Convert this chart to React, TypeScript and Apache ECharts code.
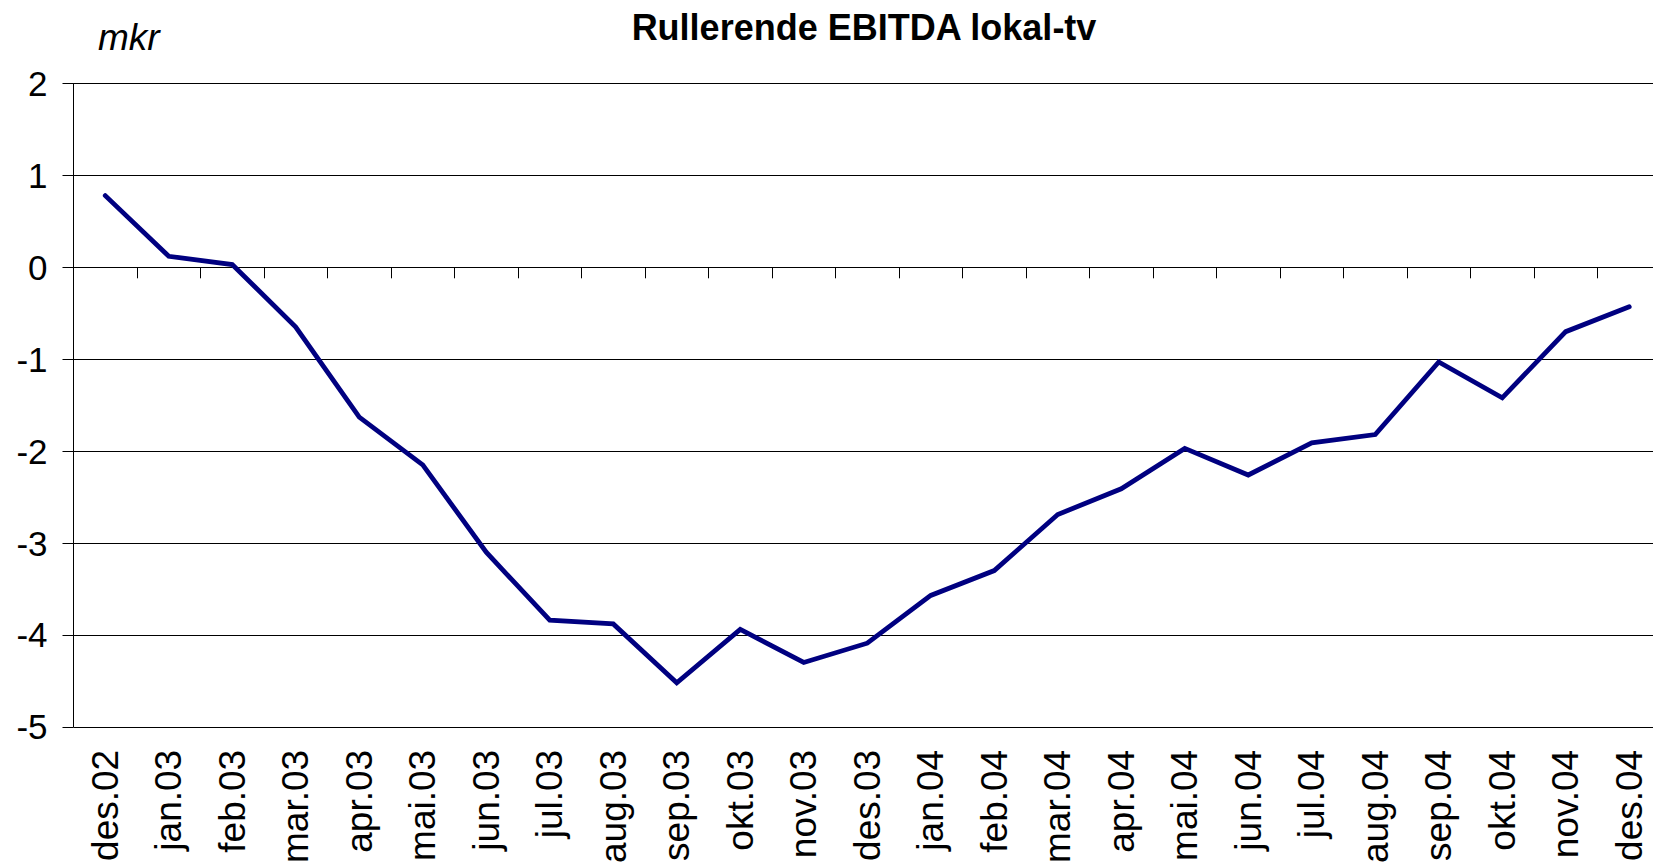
import React, { useEffect, useRef } from 'react';
import * as echarts from 'echarts';

const categories = [
  'des.02', 'jan.03', 'feb.03', 'mar.03', 'apr.03', 'mai.03', 'jun.03', 'jul.03', 'aug.03',
  'sep.03', 'okt.03', 'nov.03', 'des.03', 'jan.04', 'feb.04', 'mar.04', 'apr.04', 'mai.04',
  'jun.04', 'jul.04', 'aug.04', 'sep.04', 'okt.04', 'nov.04', 'des.04',
];
const ebitda = [
  0.78, 0.12, 0.03, -0.65, -1.63, -2.15, -3.1, -3.84, -3.88,
  -4.52, -3.94, -4.3, -4.09, -3.57, -3.3, -2.69, -2.41, -1.97,
  -2.26, -1.91, -1.82, -1.03, -1.42, -0.7, -0.43,
];
const yMin = -5;
const yMax = 2;
const yStep = 1;
const titleText = 'Rullerende EBITDA lokal-tv';
const unitText = 'mkr';

const FONT = '"Liberation Sans", Arial, sans-serif';

export default function App() {
  const ref = useRef<HTMLDivElement>(null);
  useEffect(() => {
    if (!ref.current) return;
    const chart = echarts.init(ref.current, undefined, { renderer: 'svg' });
    chart.setOption({
      animation: false,
      backgroundColor: '#ffffff',
      textStyle: { fontFamily: FONT },
      graphic: [
        {
          type: 'text',
          x: 864,
          y: 27,
          style: {
            text: titleText,
            fontFamily: FONT,
            fontSize: 36,
            fontWeight: 'bold',
            fill: '#000',
            align: 'center',
            verticalAlign: 'middle',
          },
        },
        {
          type: 'text',
          x: 98,
          y: 37,
          style: {
            text: unitText,
            fontFamily: FONT,
            fontSize: 37,
            fontStyle: 'italic',
            fill: '#000',
            align: 'left',
            verticalAlign: 'middle',
          },
        },
      ],
      grid: { left: 73.5, right: 0, top: 83.5, bottom: 139, containLabel: false },
      xAxis: [
        {
          type: 'category',
          data: categories,
          boundaryGap: true,
          position: 'bottom',
          axisLine: { show: true, onZero: true, lineStyle: { color: '#000', width: 1 } },
          axisTick: { show: true, length: 11, interval: 0, lineStyle: { color: '#000', width: 1 } },
          axisLabel: { show: false },
          splitLine: { show: false },
        },
        {
          type: 'category',
          data: categories,
          boundaryGap: true,
          position: 'bottom',
          axisLine: { show: false, onZero: false },
          axisTick: { show: false },
          axisLabel: {
            show: true,
            rotate: 90,
            interval: 0,
            margin: 23,
            fontSize: 37,
            fontFamily: FONT,
            color: '#000',
          },
          splitLine: { show: false },
        },
      ],
      yAxis: {
        type: 'value',
        min: yMin,
        max: yMax,
        interval: yStep,
        axisLine: { show: true, lineStyle: { color: '#000', width: 1 } },
        axisTick: { show: true, length: 11, lineStyle: { color: '#000', width: 1 } },
        axisLabel: { fontSize: 35, fontFamily: FONT, color: '#000', margin: 26 },
        splitLine: { show: true, lineStyle: { color: '#000', width: 1 } },
      },
      series: [
        {
          type: 'line',
          xAxisIndex: 0,
          data: ebitda,
          symbol: 'none',
          showSymbol: false,
          lineStyle: { color: '#000080', width: 4.8, cap: 'round', join: 'miter' },
          itemStyle: { color: '#000080' },
        },
      ],
    });
    return () => chart.dispose();
  }, []);
  return (
    <div
      ref={ref}
      style={{ position: 'fixed', left: 0, top: 0, width: 1661, height: 866, background: '#fff' }}
    />
  );
}
